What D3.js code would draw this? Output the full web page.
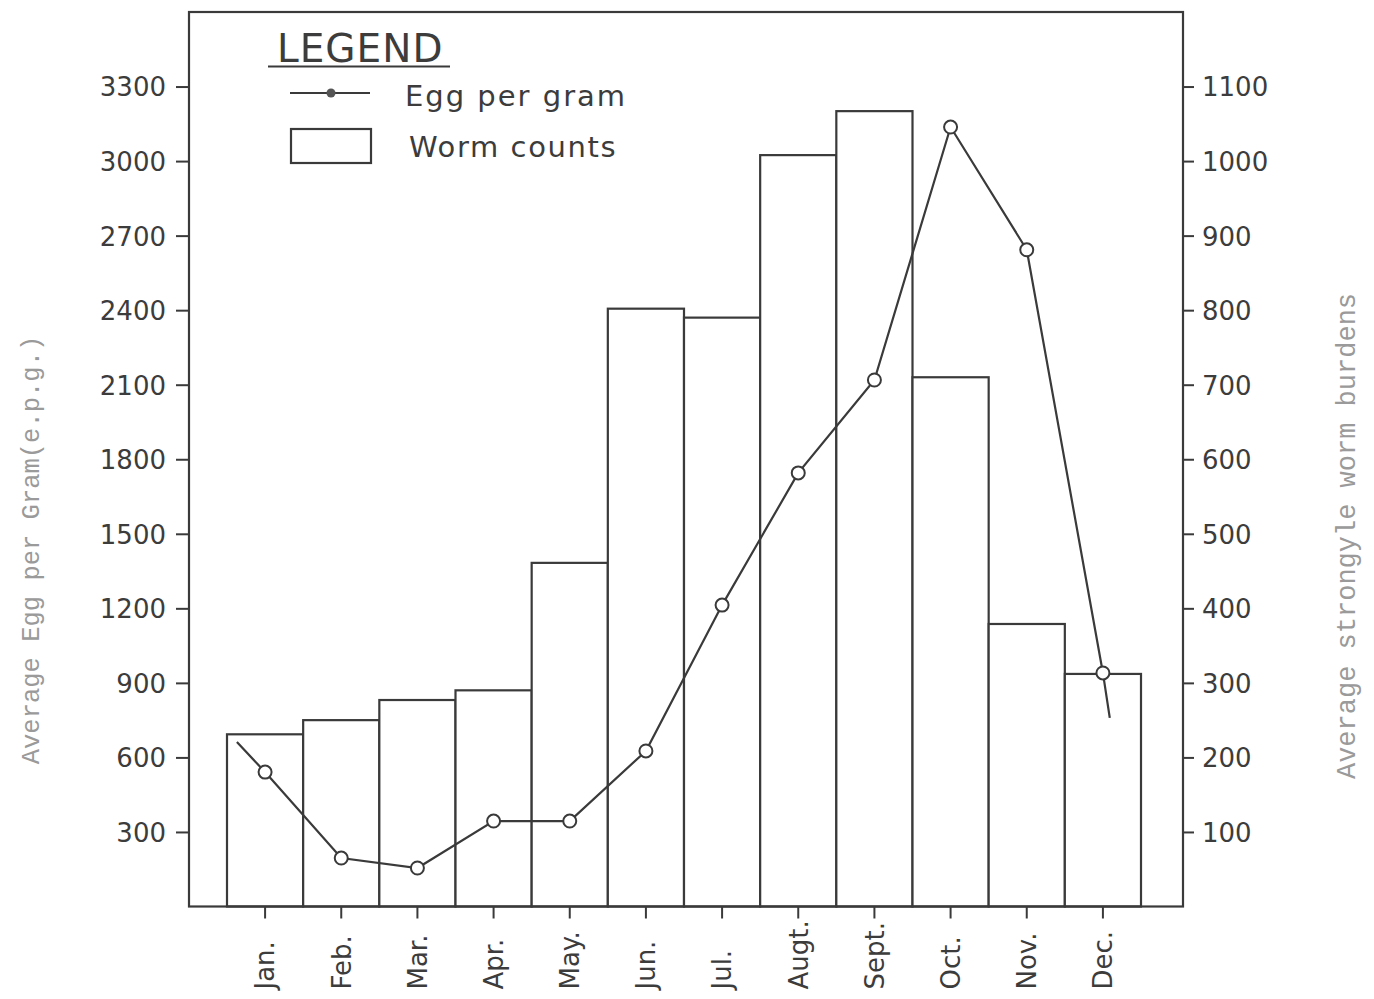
<!DOCTYPE html>
<html><head><meta charset="utf-8">
<script src="https://cdn.jsdelivr.net/npm/d3@7"></script>
<style>body{margin:0;background:#fff}svg{display:block}</style>
</head><body>
<svg id="c" width="1374" height="999"></svg>
<script>
const months = ["Jan.","Feb.","Mar.","Apr.","May.","Jun.","Jul.","Augt.","Sept.","Oct.","Nov.","Dec."];
const wormCounts = [231,250,277,290,461,802,790,1008,1067,710,379,312];
const eggPerGram = [541,195,155,344,344,626,1213,1745,2119,3137,2643,940];
const eggLeadIn = {month:"Jan.", offset:-0.37, value:662};
const eggLeadOut = {month:"Dec.", offset:0.09, value:759};
const eggTicks = [300,600,900,1200,1500,1800,2100,2400,2700,3000,3300];
const wormTicks = [100,200,300,400,500,600,700,800,900,1000,1100];

const svg = d3.select("#c");
const ink = "#3a3a3a";
const frame = {l:189, r:1183, t:12, b:906.5};

const x = d3.scaleBand().domain(months).range([227,1141]).padding(0);
const yL = d3.scaleLinear().domain([0,3600]).range([frame.b, frame.t]);
const yR = d3.scaleLinear().domain([0,1200]).range([frame.b, frame.t]);
const cx = (m, off=0) => x(m) + x.bandwidth()*(0.5+off);

// bars
svg.append("g").selectAll("rect").data(months).join("rect")
  .attr("x", d=>x(d)).attr("width", x.bandwidth())
  .attr("y", (d,i)=>yR(wormCounts[i]))
  .attr("height", (d,i)=>yR(0)-yR(wormCounts[i]))
  .attr("fill","#fff").attr("stroke",ink).attr("stroke-width",2.2);

// frame
svg.append("rect").attr("x",frame.l).attr("y",frame.t)
  .attr("width",frame.r-frame.l).attr("height",frame.b-frame.t)
  .attr("fill","none").attr("stroke",ink).attr("stroke-width",2.2);

// axes
const tickFont = "'DejaVu Sans', sans-serif";
const gL = svg.append("g").attr("transform",`translate(${frame.l},0)`)
  .call(d3.axisLeft(yL).tickValues(eggTicks).tickSize(13).tickPadding(10).tickFormat(d3.format("d")));
const gR = svg.append("g").attr("transform",`translate(${frame.r},0)`)
  .call(d3.axisRight(yR).tickValues(wormTicks).tickSize(11).tickPadding(8).tickFormat(d3.format("d")));
const gB = svg.append("g").attr("transform",`translate(0,${frame.b})`)
  .call(d3.axisBottom(x).tickSize(12).tickPadding(0));
[gL,gR,gB].forEach(g=>{
  g.select(".domain").remove();
  g.selectAll(".tick line").attr("stroke",ink).attr("stroke-width",2);
  g.selectAll("text").attr("fill","#3c3c3c").style("font-family",tickFont).style("font-size","26px");
});
gL.selectAll(".tick text").attr("dy","0.36em");
gR.selectAll(".tick text").attr("dy","0.36em");
gB.selectAll(".tick text")
  .attr("text-anchor","start").attr("y",0).attr("dy","0.36em")
  .attr("transform","translate(0,83) rotate(-90)")
  .attr("x",0);

// egg line
const pts = [[cx(eggLeadIn.month,eggLeadIn.offset), yL(eggLeadIn.value)]]
  .concat(months.map((m,i)=>[cx(m), yL(eggPerGram[i])]))
  .concat([[cx(eggLeadOut.month,eggLeadOut.offset), yL(eggLeadOut.value)]]);
svg.append("path").attr("d", d3.line()(pts))
  .attr("fill","none").attr("stroke",ink).attr("stroke-width",2.2);
svg.append("g").selectAll("circle").data(months).join("circle")
  .attr("cx", d=>cx(d)).attr("cy",(d,i)=>yL(eggPerGram[i])).attr("r",6.5)
  .attr("fill","#fff").attr("stroke",ink).attr("stroke-width",2);

// axis titles
const titleFont = "'Liberation Mono', 'Courier New', monospace";
svg.append("text").attr("transform","translate(30,550) rotate(-90)")
  .attr("text-anchor","middle").attr("dy","0.35em")
  .style("font-family",titleFont).style("font-size","25.5px").attr("fill","#9a9a9a")
  .text("Average Egg per Gram(e.p.g.)");
svg.append("text").attr("transform","translate(1346,536) rotate(-90)")
  .attr("text-anchor","middle").attr("dy","0.35em")
  .style("font-family",titleFont).style("font-size","27px").attr("fill","#9a9a9a")
  .text("Average strongyle worm burdens");

// legend
const lg = svg.append("g");
lg.append("text").attr("x",277).attr("y",62)
  .style("font-family",tickFont).style("font-size","39px").style("letter-spacing","1px")
  .attr("fill","#3c3c3c").text("LEGEND");
lg.append("line").attr("x1",268).attr("x2",450).attr("y1",66.5).attr("y2",66.5)
  .attr("stroke",ink).attr("stroke-width",2.2);
lg.append("line").attr("x1",290).attr("x2",370).attr("y1",93).attr("y2",93)
  .attr("stroke",ink).attr("stroke-width",2);
lg.append("circle").attr("cx",331).attr("cy",93).attr("r",4.5).attr("fill","#555");
lg.append("text").attr("x",405).attr("y",106)
  .style("font-family",tickFont).style("font-size","29px").style("letter-spacing","2px")
  .attr("fill","#3c3c3c").text("Egg per gram");
lg.append("rect").attr("x",291).attr("y",129).attr("width",80).attr("height",34)
  .attr("fill","#fff").attr("stroke",ink).attr("stroke-width",2.2);
lg.append("text").attr("x",409).attr("y",157)
  .style("font-family",tickFont).style("font-size","29px").style("letter-spacing","1.6px")
  .attr("fill","#3c3c3c").text("Worm counts");
</script>
</body></html>
